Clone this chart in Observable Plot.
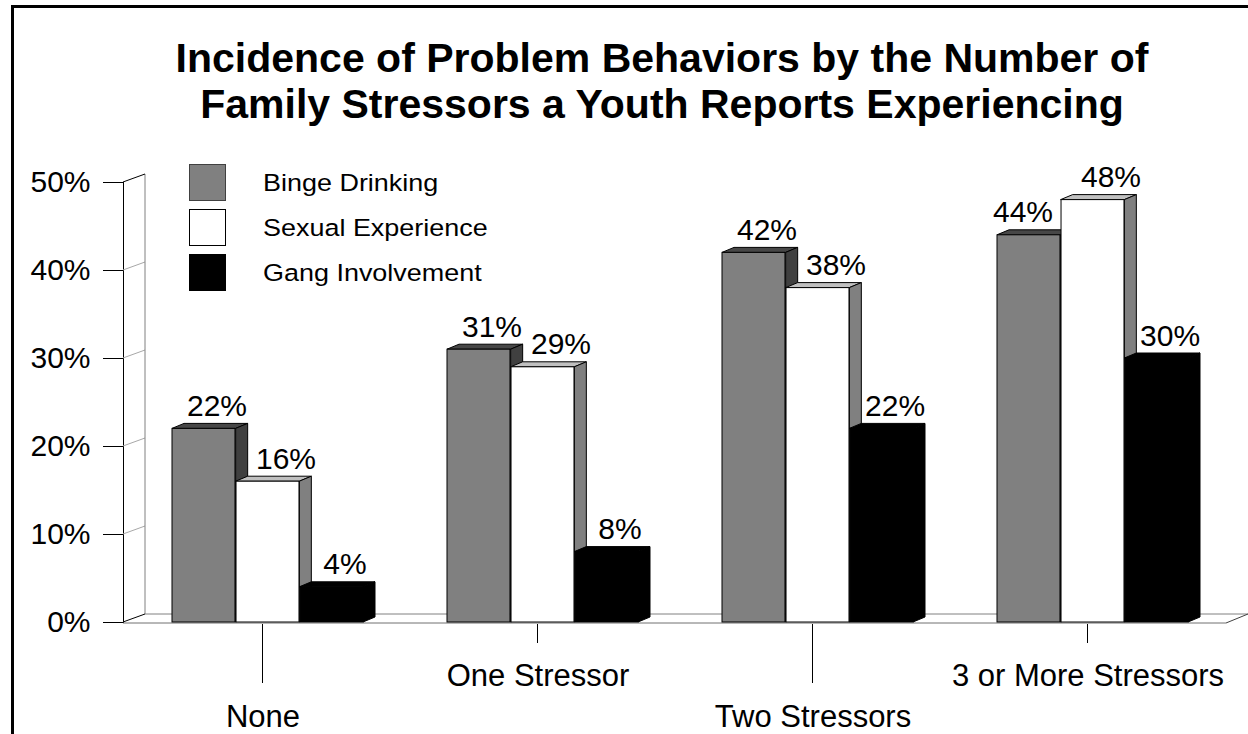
<!DOCTYPE html>
<html>
<head>
<meta charset="utf-8">
<script src="https://cdn.jsdelivr.net/npm/d3@7"></script>
<script src="https://cdn.jsdelivr.net/npm/@observablehq/plot@0.6"></script>
<style>
html, body { margin: 0; padding: 0; background: #fff; }
#wrap { position: relative; width: 1248px; height: 734px; overflow: hidden; font-family: "Liberation Sans", Arial, sans-serif; color: #000; }
#frame { position: absolute; left: 11px; top: 5px; width: 1320px; height: 820px; border: 3px solid #000; box-sizing: border-box; }
#title { position: absolute; left: 12px; width: 1300px; top: 35px; text-align: center; font-weight: bold; font-size: 41px; line-height: 46px; }
#chart { position: absolute; left: 0; top: 0; }
#legend { position: absolute; left: 189px; top: 164px; }
.item { position: absolute; left: 0; height: 37px; width: 400px; }
.sw { position: absolute; left: 0; top: 0; width: 37px; height: 37px; box-sizing: border-box; border: 1px solid #000; }
.lab { position: absolute; left: 74px; top: 0; line-height: 37px; font-size: 24.5px; white-space: nowrap; transform: scaleX(1.1); transform-origin: 0 50%; }
</style>
</head>
<body>
<div id="wrap">
  <div id="frame"></div>
  <div id="title">Incidence of Problem Behaviors by the Number of<br>Family Stressors a Youth Reports Experiencing</div>
  <div id="chart"></div>
  <div id="legend"></div>
</div>
<script>
// ---- data ----
const categories = ["None", "One Stressor", "Two Stressors", "3 or More Stressors"];
const series = ["Binge Drinking", "Sexual Experience", "Gang Involvement"];
const bingeDrinking = [22, 31, 42, 44];
const sexualExperience = [16, 29, 38, 48];
const gangInvolvement = [4, 8, 22, 30];
const yTicks = [0, 10, 20, 30, 40, 50];

// ---- styles ----
const frontColor = ["#808080", "#ffffff", "#000000"];
const topColor = ["#474747", "#c0c0c0", "#000000"];
const sideColor = ["#404040", "#808080", "#000000"];
const BAR_DX = 12, BAR_DY = 5;     // bar depth
const WALL_DX = 22, WALL_DY = 8;   // wall/floor depth
const FLOOR_EXT = 36;              // floor extends beyond last band

const W = 1248, H = 734;
const mL = 123, mR = 58, mT = 182, mB = 112, insL = 47;
const padInner = 0.304;

const seriesValues = [bingeDrinking, sexualExperience, gangInvolvement];
const rows = series.flatMap((s, si) => categories.map((c, ci) => ({series: s, si, cat: c, ci, value: seriesValues[si][ci]})));

// band geometry (for insets splitting each band in three)
const rangeW = W - mL - mR - insL;
const step = rangeW / (categories.length - padInner);
const bandW = step * (1 - padInner);
const bw = bandW / 3;

const pts = (arr) => arr.map(p => p.join(",")).join(" ");

// side wall + floor
function wallAndFloor(index, scales, values, dim) {
  const y = scales.y;
  const g = d3.create("svg:g");
  const x0 = dim.marginLeft;
  const x1 = dim.width - dim.marginRight + FLOOR_EXT;
  const y0 = y(0), yTop = y(d3.max(yTicks));
  g.append("polygon").attr("points", pts([[x0, y0], [x0 + WALL_DX, y0 - WALL_DY], [x1 + WALL_DX, y0 - WALL_DY], [x1, y0]]))
    .attr("fill", "#fff").attr("stroke", "none");
  g.append("line").attr("x1", x0 + WALL_DX).attr("x2", x1 + WALL_DX).attr("y1", y0 - WALL_DY).attr("y2", y0 - WALL_DY).attr("stroke", "#808080");
  g.append("line").attr("x1", x0).attr("x2", x1).attr("y1", y0 + 1).attr("y2", y0 + 1).attr("stroke", "#707070");
  g.append("line").attr("x1", x1).attr("x2", x1 + WALL_DX).attr("y1", y0 + 1).attr("y2", y0 - WALL_DY).attr("stroke", "#404040");
  yTicks.slice(1, -1).forEach(t => {
    g.append("line").attr("x1", x0).attr("y1", y(t)).attr("x2", x0 + WALL_DX).attr("y2", y(t) - WALL_DY).attr("stroke", "#a8a8a8");
  });
  g.append("line").attr("x1", x0 + WALL_DX).attr("x2", x0 + WALL_DX).attr("y1", yTop - WALL_DY).attr("y2", y0 - WALL_DY).attr("stroke", "#808080");
  g.append("line").attr("x1", x0).attr("y1", yTop).attr("x2", x0 + WALL_DX).attr("y2", yTop - WALL_DY).attr("stroke", "#000");
  g.append("line").attr("x1", x0).attr("y1", y0).attr("x2", x0 + WALL_DX).attr("y2", y0 - WALL_DY).attr("stroke", "#000");
  return g.node();
}

// top and side faces of the 3-D bars of one series
function faces(si) {
  return function (index, scales) {
    const x = scales.x, y = scales.y;
    const b = x.bandwidth() / 3;
    const g = d3.create("svg:g");
    rows.filter(r => r.si === si).forEach(r => {
      const xl = x(r.cat) + si * b, xr = xl + b, yt = y(r.value), y0 = y(0);
      g.append("polygon").attr("points", pts([[xl, yt], [xl + BAR_DX, yt - BAR_DY], [xr + BAR_DX, yt - BAR_DY], [xr, yt]]))
        .attr("fill", topColor[si]).attr("stroke", "#000").attr("stroke-linejoin", "round");
      g.append("polygon").attr("points", pts([[xr, yt], [xr + BAR_DX, yt - BAR_DY], [xr + BAR_DX, y0 - BAR_DY], [xr, y0]]))
        .attr("fill", sideColor[si]).attr("stroke", "#000").attr("stroke-linejoin", "round");
    });
    return g.node();
  };
}

// category ticks (staggered lengths)
function categoryTicks(index, scales) {
  const x = scales.x, y = scales.y;
  const g = d3.create("svg:g");
  categories.forEach((c, i) => {
    const cx = x(c) + x.bandwidth() / 2 - 5;
    g.append("line").attr("x1", cx).attr("x2", cx).attr("y1", y(0) + 2).attr("y2", y(0) + (i % 2 ? 21 : 61)).attr("stroke", "#000");
  });
  return g.node();
}

const marks = [wallAndFloor];
series.forEach((s, si) => {
  marks.push(faces(si));
  marks.push(Plot.barY(rows.filter(r => r.si === si), {
    x: "cat", y: "value", fill: frontColor[si], stroke: "#000", strokeWidth: 1,
    insetLeft: si * bw, insetRight: (2 - si) * bw
  }));
});
// value labels: shifted left when the next bar of the group is taller
series.forEach((s, si) => {
  const rs = rows.filter(r => r.si === si);
  const blocked = r => si < 2 && seriesValues[si + 1][r.ci] > r.value;
  const common = {x: "cat", y: "value", text: d => d.value + "%", dy: -13, lineAnchor: "bottom", fontSize: 30, fill: "#000"};
  marks.push(Plot.text(rs.filter(r => !blocked(r)), {...common, dx: (si - 1) * bw + (si === 1 ? 18 : 13)}));
  marks.push(Plot.text(rs.filter(blocked), {...common, dx: (si - 1) * bw - 6}));
});
marks.push(categoryTicks);
marks.push(Plot.text(categories.filter((d, i) => i % 2 === 1), {x: d => d, frameAnchor: "bottom", dx: -5, dy: 63, lineAnchor: "bottom", fontSize: 31}));
marks.push(Plot.text(categories.filter((d, i) => i % 2 === 0), {x: d => d, frameAnchor: "bottom", dx: -5, dy: 104, lineAnchor: "bottom", fontSize: 31}));

const chart = Plot.plot({
  width: W, height: H,
  marginTop: mT, marginBottom: mB, marginLeft: mL, marginRight: mR,
  style: {fontFamily: "'Liberation Sans', Arial, sans-serif", fontSize: "30px", background: "transparent", color: "#000", overflow: "visible"},
  x: {type: "band", domain: categories, paddingInner: padInner, paddingOuter: 0, insetLeft: insL, axis: null},
  y: {domain: [0, 50], ticks: yTicks, tickFormat: d => d + "%", tickSize: 20, tickPadding: 13, line: true, label: null},
  marks
});
document.getElementById("chart").appendChild(chart);

// legend
const legend = document.getElementById("legend");
const swBorder = ["#404040", "#000", "#000"];
series.forEach((s, i) => {
  const item = document.createElement("div");
  item.className = "item";
  item.style.top = (i * 45) + "px";
  item.innerHTML = `<div class="sw" style="background:${frontColor[i]};border-color:${swBorder[i]}"></div><div class="lab">${s}</div>`;
  legend.appendChild(item);
});
</script>
</body>
</html>
